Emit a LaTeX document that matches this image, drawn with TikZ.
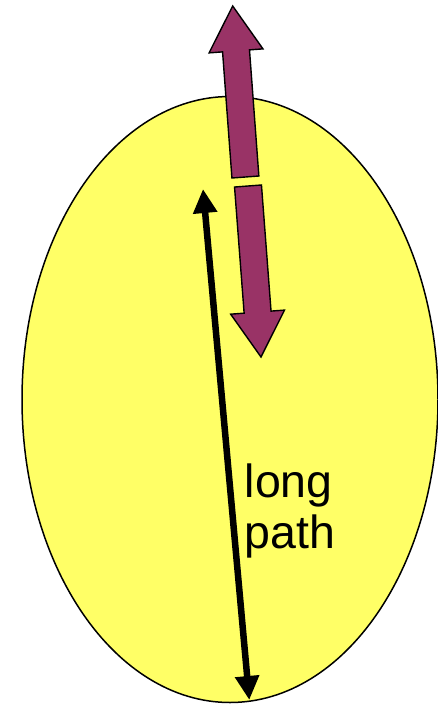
\documentclass[tikz,border=0pt]{standalone}
\usepackage{fontspec}
\setmainfont{Liberation Sans}
\usepackage{tikz}
\usepackage{xcolor}
\usetikzlibrary{arrows.meta,positioning,calc}
\definecolor{cell}     {HTML}{FFFF66}
\definecolor{plum}     {HTML}{993366}
\definecolor{ink}      {HTML}{000000}

\tikzset{
  blockarrow/.style={draw=ink,line width=1.4pt,fill=plum,line join=miter},
  pathline/.style={draw=ink,line width=6.5pt,{Triangle[width=23pt,length=24pt]}-{Triangle[width=23pt,length=24pt]}}
}

% block arrow from #1 (base) to #2 (tip)
\newcommand{\blockarrow}[2]{%
  \coordinate (ba) at #1;
  \coordinate (tp) at #2;
  \coordinate (hd) at ($(tp)!45pt!(ba)$);
  \draw[blockarrow] ($(ba)!13.5pt!90:(tp)$) -- ($(hd)!13.5pt!-90:(ba)$)
    -- ($(hd)!27pt!-90:(ba)$) -- (tp) -- ($(hd)!27pt!90:(ba)$)
    -- ($(hd)!13.5pt!90:(ba)$) -- ($(ba)!13.5pt!-90:(tp)$) -- cycle;
}

\begin{document}
\begin{tikzpicture}[x=1pt,y=-1pt]
  \useasboundingbox (0,0) rectangle (438,705);
  % the cell
  \draw[ink,line width=1.5pt,fill=cell] (230,399.5) ellipse [x radius=208,y radius=303];
  % outward and inward arrows
  \blockarrow{(245.4,177)}{(232.7,6)}
  \blockarrow{(248,186)}{(261,357)}
  % long path
  \coordinate (ptop) at (203,189);
  \coordinate (pbot) at (249.3,700);
  \draw[pathline] (ptop) -- (pbot);
  \node[anchor=base west,inner sep=0pt,align=left,font=\fontsize{46.5}{51}\selectfont]
    (lbl) at (244.5,548) {long\\path};
\end{tikzpicture}
\end{document}
